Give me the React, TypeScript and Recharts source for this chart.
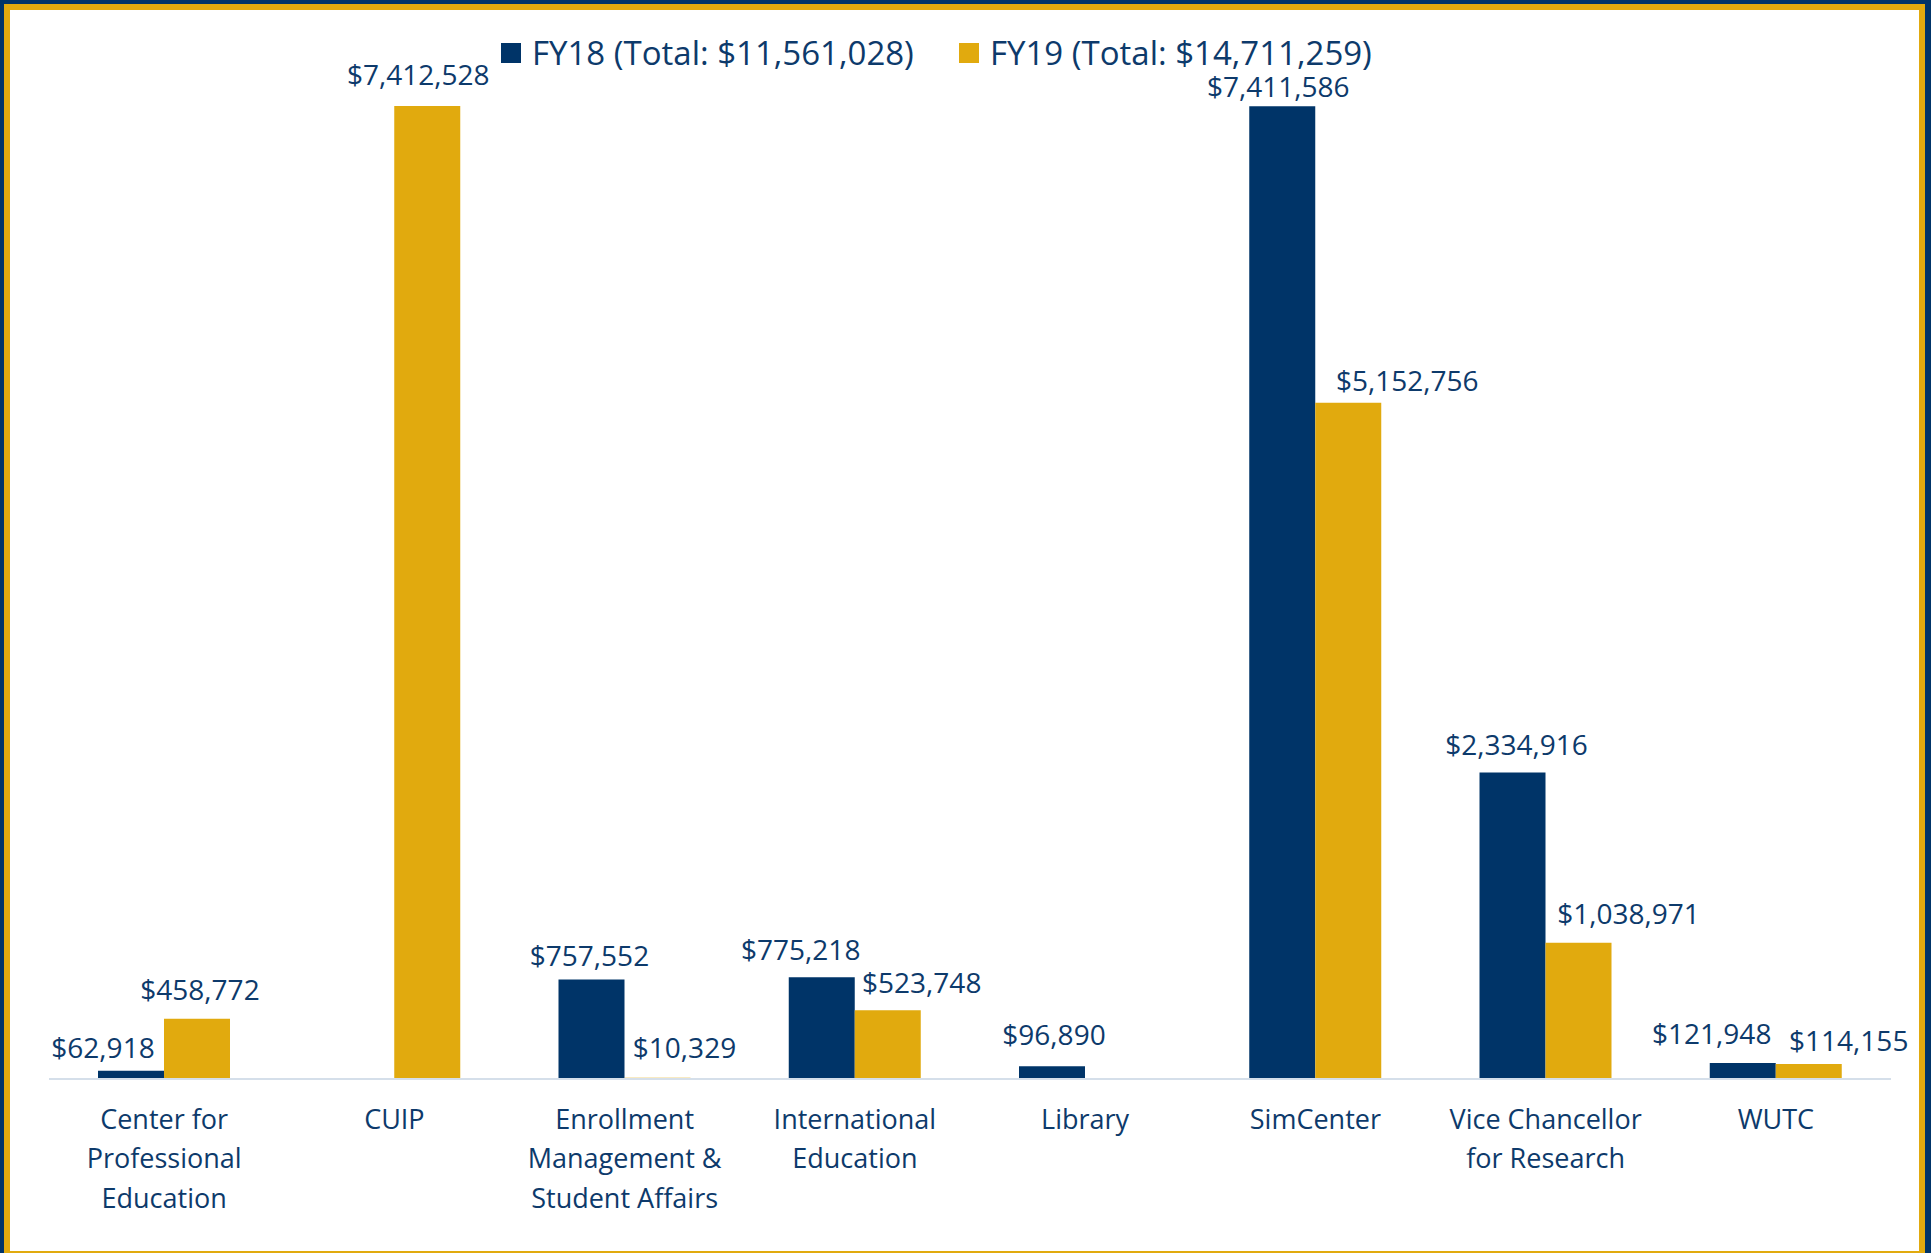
import { BarChart, Bar, XAxis, YAxis, LabelList } from 'recharts'

// data
const categories = [
  'Center for\nProfessional\nEducation',
  'CUIP',
  'Enrollment\nManagement &\nStudent Affairs',
  'International\nEducation',
  'Library',
  'SimCenter',
  'Vice Chancellor\nfor Research',
  'WUTC',
]
// 0 = no bar in that year
const fy18 = [62918, 0, 757552, 775218, 96890, 7411586, 2334916, 121948]
const fy19 = [458772, 7412528, 10329, 523748, 0, 5152756, 1038971, 114155]

// value labels were hand-placed in the original: sideways nudge and gap above the bar (px)
const fy18LabelShift = [-28, 0, -2, -21, 2, -4, 4, -31]
const fy18LabelGap = [13, 19, 14, 17, 21, 9, 18, 19]
const fy19LabelShift = [3, -9, 27, 34, 0, 59, 50, 40]
const fy19LabelGap = [19, 21, 20, 17, 19, 12, 19, 13]

const NAVY = '#003468'
const GOLD = '#e1aa0e'
const TEXT = '#0d3a6b'
const FONT = '"Open Sans", "Noto Sans", sans-serif'

const money = (v: number) => '$' + v.toLocaleString('en-US')
const total = (arr: number[]) => arr.reduce((s, v) => s + v, 0)

const data = categories.map((name, i) => ({ name, fy18: fy18[i], fy19: fy19[i] }))

function CategoryTick({ x, y, payload }: any) {
  const lines = String(payload.value).split('\n')
  return (
    <text x={x} y={y + 50} textAnchor="middle" fill={TEXT} fontSize={27} fontFamily={FONT}>
      {lines.map((line, i) => (
        <tspan key={i} x={x} dy={i === 0 ? 0 : 39.4}>{line}</tspan>
      ))}
    </text>
  )
}

// zero-height bars are skipped by LabelList, so look the slot up by value
function makeLabel(values: number[], shift: number[], gap: number[]) {
  return (props: any) => {
    const { x, y, width, value } = props
    if (!value) return null
    const i = values.indexOf(value)
    return (
      <text
        x={x + width / 2 + (shift[i] ?? 0)}
        y={y - (gap[i] ?? 18)}
        textAnchor="middle"
        fill={TEXT}
        fontSize={28}
        fontFamily={FONT}
      >
        {money(value)}
      </text>
    )
  }
}

function TopLegend() {
  const items = [
    { color: NAVY, text: `FY18 (Total: ${money(total(fy18))})`, left: 501 },
    { color: GOLD, text: `FY19 (Total: ${money(total(fy19))})`, left: 959 },
  ]
  return (
    <>
      {items.map((it) => (
        <div key={it.text} style={{ position: 'absolute', left: it.left, top: 30, display: 'flex', alignItems: 'center', height: 46 }}>
          <span style={{ width: 20, height: 20, background: it.color, display: 'inline-block', marginRight: 11 }} />
          <span style={{ color: TEXT, fontSize: 33, fontFamily: FONT, lineHeight: '46px', whiteSpace: 'nowrap' }}>{it.text}</span>
        </div>
      ))}
    </>
  )
}

export default function App() {
  return (
    <div style={{ position: 'absolute', left: 0, top: 0, width: 1931, height: 1253, background: NAVY, overflow: 'hidden' }}>
      <div style={{ position: 'absolute', left: 4, top: 4, width: 1921, height: 1249, background: GOLD }} />
      <div style={{ position: 'absolute', left: 10, top: 10, width: 1909, height: 1241, background: '#ffffff' }} />
      <div style={{ position: 'absolute', left: 0, top: 0 }}>
        <BarChart
          width={1931}
          height={1253}
          data={data}
          margin={{ top: 29, right: 40, bottom: 54, left: 49 }}
          barGap={0}
          barSize={66}
        >
          <XAxis
            dataKey="name"
            interval={0}
            height={120}
            tickSize={0}
            tickMargin={0}
            tickLine={false}
            axisLine={{ stroke: '#d5dfea', strokeWidth: 2 }}
            tick={<CategoryTick />}
          />
          <YAxis hide domain={[0, 8000000]} width={0} />
          <Bar dataKey="fy18" fill={NAVY} isAnimationActive={false}>
            <LabelList dataKey="fy18" content={makeLabel(fy18, fy18LabelShift, fy18LabelGap)} />
          </Bar>
          <Bar dataKey="fy19" fill={GOLD} isAnimationActive={false}>
            <LabelList dataKey="fy19" content={makeLabel(fy19, fy19LabelShift, fy19LabelGap)} />
          </Bar>
        </BarChart>
      </div>
      <TopLegend />
    </div>
  )
}
